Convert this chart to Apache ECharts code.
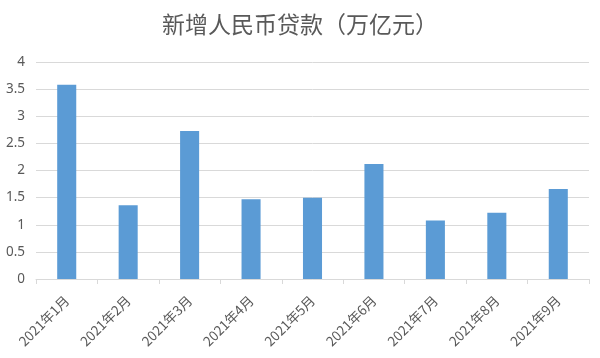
<!DOCTYPE html>
<html><head><meta charset="utf-8">
<script src="https://cdn.jsdelivr.net/npm/echarts@6/dist/echarts.min.js"></script>
<style>html,body{margin:0;padding:0;background:#fff}#c{width:600px;height:358px}</style>
</head><body><div id="c"></div>
<script>
var categories = ['2021年1月','2021年2月','2021年3月','2021年4月','2021年5月','2021年6月','2021年7月','2021年8月','2021年9月'];
var values = [3.58, 1.36, 2.73, 1.47, 1.50, 2.12, 1.08, 1.22, 1.66];
var yTicks = [0, 0.5, 1, 1.5, 2, 2.5, 3, 3.5, 4];
var title = '新增人民币贷款（万亿元）';

var chart = echarts.init(document.getElementById('c'));
chart.setOption({
  animation: false,
  title: {text: title, left: 'center', top: 8,
    textStyle: {fontFamily: 'Noto Sans CJK SC', fontWeight: 'normal', fontSize: 23, color: '#595959'}},
  grid: {left: 36, right: 11, top: 62, bottom: 79},
  xAxis: {type: 'category', data: categories,
    axisLine: {lineStyle: {color: '#d9d9d9'}},
    axisTick: {show: true, length: 5, lineStyle: {color: '#d9d9d9'}},
    axisLabel: {rotate: 45, interval: 0, color: '#595959', fontSize: 13.5, fontFamily: 'Noto Sans CJK SC', margin: 19}},
  yAxis: {type: 'value', min: yTicks[0], max: yTicks[yTicks.length-1], interval: 0.5,
    axisLine: {show: false}, axisTick: {show: false},
    splitLine: {lineStyle: {color: '#d9d9d9'}},
    axisLabel: {color: '#595959', fontSize: 13.5, fontFamily: 'Noto Sans', margin: 11}},
  series: [{type: 'bar', data: values, barWidth: '31%', itemStyle: {color: '#5b9bd5'}}]
});
</script></body></html>
